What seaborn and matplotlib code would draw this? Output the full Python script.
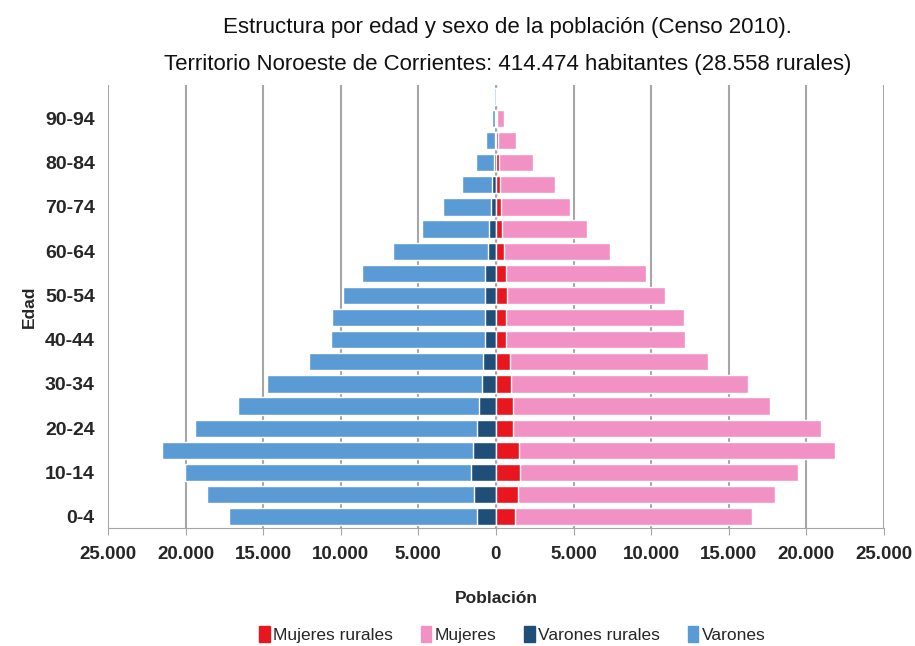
import numpy as np
import pandas as pd
import matplotlib.pyplot as plt
import seaborn as sns
from matplotlib.patches import Patch
from matplotlib.ticker import FuncFormatter

sns.set_style('white')
plt.rcParams['font.family'] = ['Liberation Sans', 'DejaVu Sans']

# datos (Censo 2010)
edades = ['0-4', '5-9', '10-14', '15-19', '20-24', '25-29', '30-34', '35-39',
          '40-44', '45-49', '50-54', '55-59', '60-64', '65-69', '70-74',
          '75-79', '80-84', '85-89', '90-94', '95+']
varones = [17180, 18590, 20030, 21530, 19380, 16600, 14770, 12020, 10650, 10540,
           9870, 8650, 6610, 4740, 3390, 2210, 1310, 640, 240, 100]
varones_rurales = [1190, 1440, 1610, 1480, 1190, 1060, 900, 840, 710, 710,
                   710, 710, 540, 430, 300, 260, 150, 90, 50, 20]
mujeres = [16490, 17990, 19490, 21850, 20930, 17670, 16230, 13690, 12190, 12130,
           10900, 9660, 7360, 5860, 4790, 3820, 2420, 1310, 490, 100]
mujeres_rurales = [1200, 1420, 1560, 1500, 1090, 1070, 960, 880, 660, 660,
                   710, 660, 490, 410, 320, 280, 230, 150, 70, 20]

c_var = '#5b9bd5'
c_var_r = '#1f4e79'
c_muj = '#f291c3'
c_muj_r = '#e8171f'
gris = '#a6a6a6'

df = pd.DataFrame({'edad': edades,
                   'varones': -np.array(varones),
                   'varones_rurales': -np.array(varones_rurales),
                   'mujeres': mujeres,
                   'mujeres_rurales': mujeres_rurales})
orden = edades[::-1]

fig = plt.figure(figsize=(9.15, 6.46), dpi=100)
ax = fig.add_axes([0.118, 0.183, 0.848, 0.685])

for col, color in [('varones', c_var), ('mujeres', c_muj),
                   ('varones_rurales', c_var_r), ('mujeres_rurales', c_muj_r)]:
    sns.barplot(data=df, x=col, y='edad', order=orden, orient='h', color=color,
                saturation=1, width=0.78, ax=ax)

ax.set_xlim(-25000, 25000)
ax.set_ylim(len(edades) - 0.5, -0.5)
ax.set_xticks(np.arange(-25000, 25001, 5000))
ax.xaxis.set_major_formatter(FuncFormatter(lambda v, p: f'{abs(int(v)):,}'.replace(',', '.')))
ax.grid(axis='x', color=gris, lw=1.5)
ax.set_axisbelow(True)
ax.axvline(0, color=gris, lw=1, zorder=0.5)

pos = [orden.index(e) for e in edades[::2]]
ax.set_yticks(pos)
ax.set_yticklabels(edades[::2])

for s in ['top', 'right', 'left']:
    ax.spines[s].set_visible(False)
ax.spines['bottom'].set_color(gris)
ax.tick_params(axis='x', bottom=True, length=5, color=gris, labelsize=13.5, pad=8)
ax.tick_params(axis='y', left=False, labelsize=14, pad=6)
for t in ax.get_xticklabels() + ax.get_yticklabels():
    t.set_fontweight('bold')
    t.set_color('#262626')

ax.set_xlabel('Población', fontsize=12.5, fontweight='bold', labelpad=20)
ax.set_ylabel('Edad', fontsize=12.5, fontweight='bold', labelpad=6)

fig.suptitle('Estructura por edad y sexo de la población (Censo 2010).\n'
             'Territorio Noroeste de Corrientes: 414.474 habitantes (28.558 rurales)',
             fontsize=16, x=0.555, y=0.973, linespacing=1.95, color='#111111')

handles = [Patch(color=c_muj_r, label='Mujeres rurales'),
           Patch(color=c_muj, label='Mujeres'),
           Patch(color=c_var_r, label='Varones rurales'),
           Patch(color=c_var, label='Varones')]
fig.legend(handles=handles, loc='center', bbox_to_anchor=(0.56, 0.018), ncol=4,
           frameon=False, fontsize=12.5, handlelength=0.6, handleheight=1.0,
           handletextpad=0.2, columnspacing=1.6)

fig.savefig('out.png', dpi=100)
